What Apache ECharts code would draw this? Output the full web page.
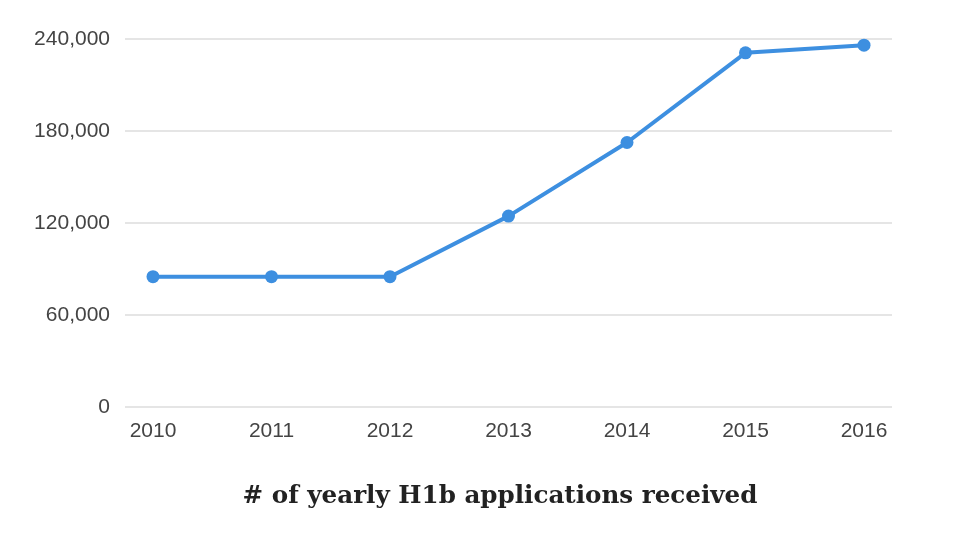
<!DOCTYPE html>
<html><head><meta charset="utf-8">
<script src="https://cdn.jsdelivr.net/npm/echarts@6/dist/echarts.min.js"></script>
<style>html,body{margin:0;padding:0;background:#fff}#c{width:975px;height:533px}</style>
</head><body><div id="c"></div>
<script>
const years = ['2010','2011','2012','2013','2014','2015','2016'];
const applications = [85000, 85000, 85000, 124500, 172500, 231000, 236000];
const yTicks = [0, 60000, 120000, 180000, 240000];
const titleText = '# of yearly H1b applications received';

const chart = echarts.init(document.getElementById('c'), null, {renderer:'canvas'});
const yMin = yTicks[0], yMax = yTicks[yTicks.length-1], yStep = yTicks[1]-yTicks[0];
chart.setOption({
  animation:false,
  backgroundColor:'#fff',
  graphic:[{type:'text',x:500,y:497,style:{text:titleText,align:'center',verticalAlign:'middle',textAlign:'center',textVerticalAlign:'middle',fontFamily:'DejaVu Serif',fontWeight:'bold',fontSize:24.6,fill:'#222'}}],
  grid:[
    {left:125,right:83,top:39,bottom:126},
    {left:153,right:111,top:39,bottom:126}
  ],
  xAxis:[
    {gridIndex:0,type:'category',data:years,show:false},
    {gridIndex:1,type:'category',data:years,boundaryGap:false,
     axisLine:{show:false},axisTick:{show:false},
     axisLabel:{margin:14,fontSize:21,color:'#444',fontFamily:'Liberation Sans'}}
  ],
  yAxis:[
    {gridIndex:0,type:'value',min:yMin,max:yMax,interval:yStep,
     axisLine:{show:false},axisTick:{show:false},
     splitLine:{lineStyle:{color:'#dcdcdc',width:1.5}},
     axisLabel:{margin:15,fontSize:21,color:'#444',fontFamily:'Liberation Sans',
       formatter:v=>v.toLocaleString('en-US')}},
    {gridIndex:1,type:'value',min:yMin,max:yMax,interval:yStep,show:false,splitLine:{show:false}}
  ],
  series:[{
    type:'line',xAxisIndex:1,yAxisIndex:1,data:applications,
    symbol:'circle',symbolSize:13,
    lineStyle:{color:'#3d8fe0',width:4},
    itemStyle:{color:'#3d8fe0'}
  }]
});
</script></body></html>
